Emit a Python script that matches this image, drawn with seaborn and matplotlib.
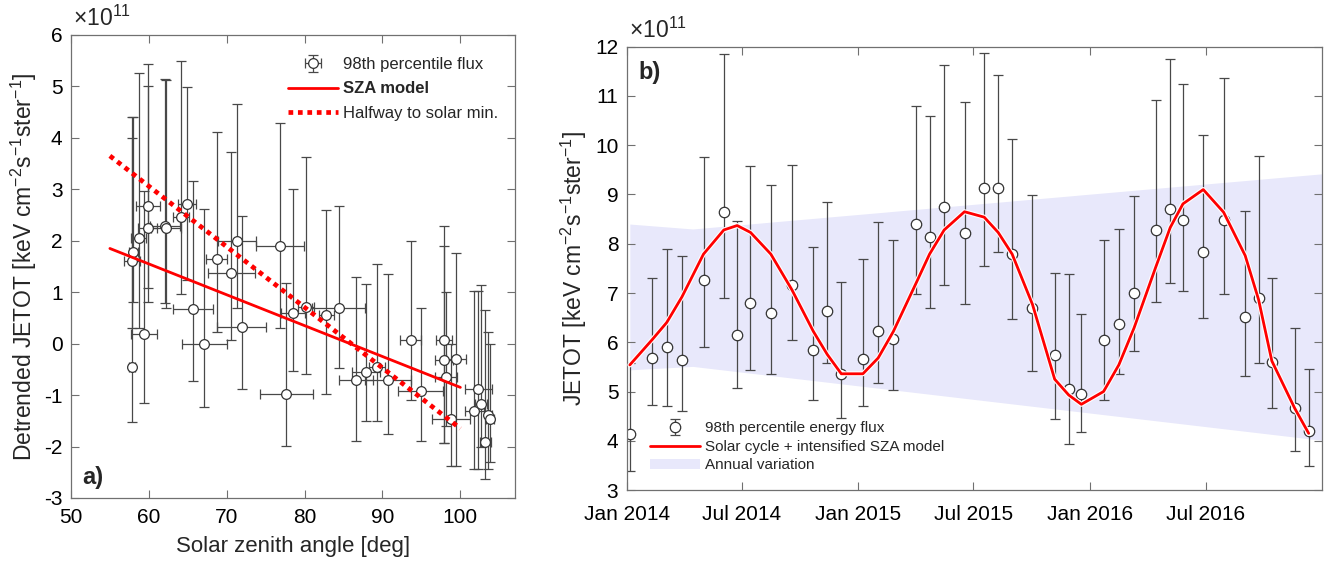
import numpy as np
import pandas as pd
import matplotlib
matplotlib.use("Agg")
import matplotlib.pyplot as plt
import matplotlib.dates as mdates
import matplotlib.patheffects as pe
from matplotlib.patches import Patch
import seaborn as sns

# ---------------- Panel a) data (units of 1e11) ----------------
sza = [57.8, 57.85, 58.0, 58.7, 59.4, 59.85, 59.9, 62.1, 62.2, 64.1,
       64.9, 65.7, 67.1, 68.7, 70.6, 71.3, 71.9, 76.8, 77.65, 78.5,
       80.2, 82.8, 84.4, 86.6, 87.9, 89.3, 90.7, 93.6, 94.9, 97.9,
       97.9, 98.2, 98.8, 99.4, 101.8, 102.3, 102.65, 103.2, 103.6, 103.8]
sza_err = [0.4, 1.0, 0.6, 1.0, 1.7, 1.2, 1.5, 1.9, 1.9, 1.0,
           1.2, 2.6, 2.9, 1.3, 3.0, 2.4, 3.2, 3.1, 3.4, 1.5,
           1.0, 1.0, 3.4, 2.2, 1.8, 1.0, 2.9, 1.4, 2.9, 1.0,
           1.1, 1.4, 2.5, 1.3, 1.2, 1.7, 0.8, 0.7, 0.5, 0.5]
detrended = [-0.46, 1.61, 1.78, 2.06, 0.18, 2.25, 2.68, 2.28, 2.25, 2.46,
             2.71, 0.67, -0.01, 1.65, 1.37, 2.00, 0.33, 1.90, -0.97, 0.59,
             0.72, 0.55, 0.70, -0.71, -0.56, -0.45, -0.71, 0.08, -0.92, 0.08,
             -0.32, -0.64, -1.47, -0.29, -1.31, -0.88, -1.18, -1.92, -1.39, -1.47]
detrended_lo = [-1.52, 0.30, 0.80, 0.30, -1.16, 0.80, 1.08, 0.79, 0.69, 0.96,
                1.24, -0.72, -1.23, 0.22, 0.07, 0.70, -0.88, 0.30, -1.98, -0.53,
                -0.59, -0.98, -0.48, -1.89, -1.50, -1.50, -1.76, -1.10, -1.89, -1.94,
                -1.94, -1.60, -2.37, -2.37, -2.44, -2.44, -2.00, -2.64, -2.44, -2.30]
detrended_hi = [4.41, 4.00, 4.41, 5.27, 2.97, 5.00, 5.43, 5.15, 5.13, 5.50,
                4.99, 3.16, 2.62, 4.12, 3.73, 4.66, 2.48, 4.29, 1.17, 3.00,
                3.62, 2.60, 2.67, 1.29, 1.15, 1.54, 1.36, 2.00, 0.70, 2.29,
                1.89, 1.01, 0.00, 1.76, 1.03, 1.03, 1.14, 0.65, 0.23, 0.00]
model_sza = [55, 100]
sza_model = [1.85, -0.85]
halfway_model = [3.65, -1.65]

# ---------------- Panel b) data (units of 1e11) ----------------
dates = ['2014-01-06', '2014-02-10', '2014-03-05', '2014-03-29', '2014-05-02',
         '2014-06-03', '2014-06-24', '2014-07-15', '2014-08-16', '2014-09-18',
         '2014-10-22', '2014-11-13', '2014-12-05', '2015-01-08', '2015-02-01',
         '2015-02-25', '2015-04-01', '2015-04-23', '2015-05-16', '2015-06-17',
         '2015-07-18', '2015-08-09', '2015-08-31', '2015-10-02', '2015-11-06',
         '2015-11-28', '2015-12-18', '2016-01-22', '2016-02-15', '2016-03-10',
         '2016-04-13', '2016-05-06', '2016-05-26', '2016-06-27', '2016-07-29',
         '2016-09-01', '2016-09-22', '2016-10-13', '2016-11-18', '2016-12-10']
jetot = [4.14, 5.68, 5.90, 5.63, 7.27, 8.65, 6.14, 6.79, 6.59, 7.16,
         5.85, 6.63, 5.36, 5.65, 6.22, 6.07, 8.41, 8.14, 8.74, 8.22,
         9.14, 9.14, 7.79, 6.70, 5.75, 5.05, 4.95, 6.04, 6.38, 6.99,
         8.27, 8.71, 8.48, 7.84, 8.48, 6.52, 6.89, 5.59, 4.66, 4.20]
jetot_hi = [5.58, 7.30, 7.89, 7.76, 9.76, 11.86, 8.47, 9.58, 9.20, 9.59,
            7.93, 8.85, 7.23, 7.69, 8.44, 8.07, 10.80, 10.60, 11.62, 10.88,
            11.87, 11.43, 10.13, 8.99, 7.41, 7.39, 6.58, 8.07, 8.30, 8.96,
            10.92, 11.75, 11.24, 10.20, 11.37, 8.66, 9.79, 7.30, 6.29, 5.46]
jetot_lo = [3.39, 4.73, 4.71, 4.61, 5.90, 6.90, 5.07, 5.44, 5.36, 6.05,
            4.82, 5.58, 4.46, 4.71, 5.17, 5.03, 6.97, 6.70, 7.16, 6.77,
            7.54, 7.84, 6.48, 5.42, 4.44, 3.93, 4.17, 4.83, 5.36, 5.82,
            6.82, 7.20, 7.05, 6.50, 6.97, 5.31, 5.58, 4.66, 3.79, 3.48]
model_b = [5.54, 6.05, 6.40, 6.92, 7.79, 8.28, 8.37, 8.23, 7.79, 7.07,
           6.22, 5.75, 5.36, 5.36, 5.68, 6.22, 7.18, 7.79, 8.28, 8.65,
           8.54, 8.23, 7.79, 6.77, 5.25, 4.93, 4.74, 5.00, 5.54, 6.29,
           7.52, 8.33, 8.81, 9.10, 8.64, 7.76, 6.87, 5.62, 4.66, 4.15]
band_dates = ['2014-01-06', '2014-04-15', '2016-12-31']
band_upper = [8.40, 8.30, 9.42]
band_lower = [5.44, 5.51, 4.01]

# ---------------- Style ----------------
sns.set_theme(style="white")
plt.rcParams['font.family'] = ['Liberation Sans', 'DejaVu Sans']
plt.rcParams['mathtext.fontset'] = 'custom'
plt.rcParams['mathtext.rm'] = 'Liberation Sans'
plt.rcParams['mathtext.it'] = 'Liberation Sans:italic'
plt.rcParams['mathtext.bf'] = 'Liberation Sans:bold'
plt.rcParams['mathtext.default'] = 'regular'
plt.rcParams['axes.unicode_minus'] = False

AXC = '#707070'
ERRC = '#484848'

fig = plt.figure(figsize=(13.26, 5.65), dpi=100)
ax1 = fig.add_axes([0.0535, 0.1186, 0.3348, 0.8195])
ax2 = fig.add_axes([0.4726, 0.1327, 0.5244, 0.7846])

def style_axes(ax, xpad=7):
    for s in ax.spines.values():
        s.set_color(AXC)
        s.set_linewidth(0.9)
    ax.tick_params(axis='both', which='both', direction='in', length=6, width=0.8,
                   color=AXC, labelcolor='black', labelsize=15,
                   top=True, right=True, bottom=True, left=True)
    ax.tick_params(axis='x', pad=xpad)
    ax.tick_params(axis='y', pad=6)

# ---------------- Panel a ----------------
d = np.array(detrended)
eb1 = ax1.errorbar(sza, detrended,
                   yerr=[d - np.array(detrended_lo), np.array(detrended_hi) - d],
                   xerr=sza_err, fmt='o', ms=7, mfc='white', mec='#333333', mew=0.9,
                   ecolor=ERRC, elinewidth=0.9, capsize=3.5, capthick=0.9, zorder=2)
sns.lineplot(x=model_sza, y=sza_model, ax=ax1, color='red', linewidth=2.0, zorder=4)
l1 = ax1.lines[-1]
sns.lineplot(x=model_sza, y=halfway_model, ax=ax1, color='red', linewidth=3.4,
             linestyle=(0, (1, 1)), zorder=4)
l2 = ax1.lines[-1]

ax1.set_xlim(50, 107)
ax1.set_ylim(-3, 6)
ax1.set_xticks([50, 60, 70, 80, 90, 100])
ax1.set_yticks(range(-3, 7))
style_axes(ax1, xpad=7)
ax1.set_xlabel('Solar zenith angle [deg]', fontsize=16, labelpad=7)
ax1.set_ylabel(r'Detrended JETOT [keV cm$^{-2}$s$^{-1}$ster$^{-1}$]', fontsize=16.5, labelpad=4)
ax1.text(0.005, 1.008, r'$\times10^{11}$', transform=ax1.transAxes, ha='left', va='bottom', fontsize=16.5)
ax1.text(0.025, 0.045, 'a)', transform=ax1.transAxes, ha='left', va='center',
         fontsize=17, fontweight='bold')
leg1 = ax1.legend([eb1, l1, l2], ['98th percentile flux', 'SZA model', 'Halfway to solar min.'],
                  loc='upper left', bbox_to_anchor=(0.489, 0.952), frameon=False,
                  fontsize=12, handlelength=3.0, handletextpad=0.3, labelspacing=0.55,
                  borderpad=0, borderaxespad=0)
leg1.get_texts()[1].set_fontweight('bold')

# ---------------- Panel b ----------------
dts = pd.to_datetime(dates)
bd = pd.to_datetime(band_dates)
ax2.fill_between(bd, band_lower, band_upper, color='#e8e8fb', linewidth=0, zorder=0)
j = np.array(jetot)
eb2 = ax2.errorbar(dts, jetot, yerr=[j - np.array(jetot_lo), np.array(jetot_hi) - j],
                   fmt='o', ms=7.5, mfc='white', mec='#333333', mew=0.9,
                   ecolor=ERRC, elinewidth=0.9, capsize=3.5, capthick=0.9, zorder=2)
sns.lineplot(x=dts, y=model_b, ax=ax2, color='red', linewidth=2.0, zorder=4,
             path_effects=[pe.Stroke(linewidth=3.6, foreground='white'), pe.Normal()])
l3 = ax2.lines[-1]

ax2.set_xlim(pd.Timestamp('2014-01-01'), pd.Timestamp('2016-12-31'))
ax2.set_ylim(3, 12)
ax2.set_yticks(range(3, 13))
ax2.xaxis.set_major_locator(mdates.MonthLocator(bymonth=[1, 7]))
ax2.xaxis.set_major_formatter(mdates.DateFormatter('%b %Y'))
style_axes(ax2, xpad=11)
ax2.set_xlabel('')
ax2.set_ylabel(r'JETOT [keV cm$^{-2}$s$^{-1}$ster$^{-1}$]', fontsize=16.5, labelpad=4)
ax2.text(0.003, 1.008, r'$\times10^{11}$', transform=ax2.transAxes, ha='left', va='bottom', fontsize=16.5)
ax2.text(0.017, 0.942, 'b)', transform=ax2.transAxes, ha='left', va='center',
         fontsize=17, fontweight='bold')
band_patch = Patch(facecolor='#e8e8fb', edgecolor='none')
ax2.legend([eb2, l3, band_patch],
           ['98th percentile energy flux', 'Solar cycle + intensified SZA model', 'Annual variation'],
           loc='upper left', bbox_to_anchor=(0.0335, 0.155), frameon=False,
           fontsize=11, handlelength=3.3, handletextpad=0.3, labelspacing=0.3,
           borderpad=0, borderaxespad=0)

fig.savefig('out.png', dpi=100)
